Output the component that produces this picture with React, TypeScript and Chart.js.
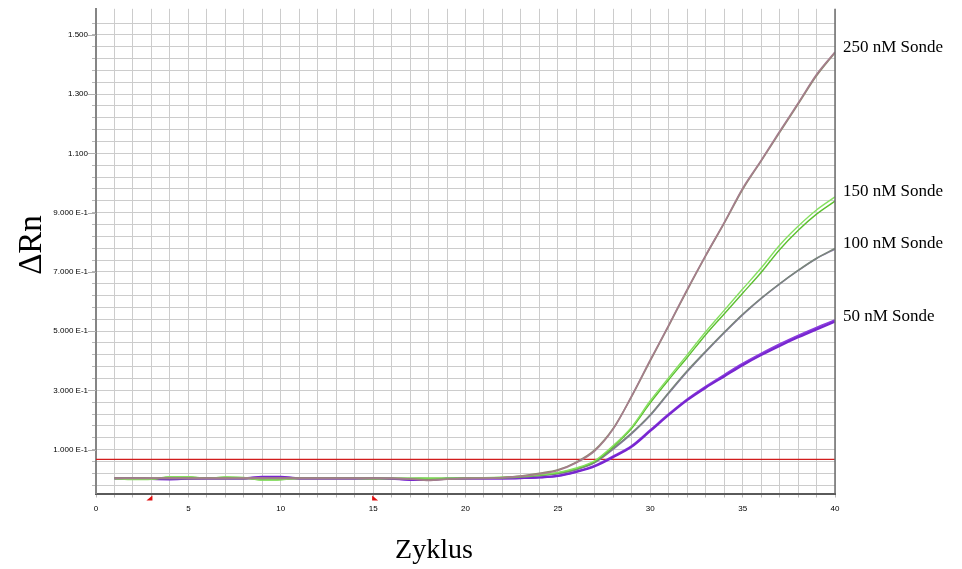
import { useEffect, useRef } from "react";
import { Chart, registerables } from "chart.js";

Chart.register(...registerables);

// ---------- data ----------
const cycles = [
  1, 2, 3, 4, 5, 6, 7, 8, 9, 10, 11, 12, 13, 14, 15, 16, 17, 18, 19, 20,
  21, 22, 23, 24, 25, 26, 27, 28, 29, 30, 31, 32, 33, 34, 35, 36, 37, 38, 39, 40,
];

const sonde250a = [
  0.003, 0.003, 0.003, 0.004, 0.003, 0.003, 0.003, 0.004, 0.004, 0.003,
  0.003, 0.003, 0.003, 0.003, 0.003, 0.003, 0.001, -0.004, 0.0, 0.003,
  0.003, 0.005, 0.01, 0.018, 0.03, 0.056, 0.096, 0.17, 0.282, 0.403,
  0.52, 0.641, 0.756, 0.866, 0.982, 1.076, 1.174, 1.269, 1.366, 1.442,
];
const sonde250b = [
  0.004, 0.004, 0.004, 0.004, 0.004, 0.004, 0.004, 0.003, 0.003, 0.004,
  0.004, 0.004, 0.004, 0.004, 0.004, 0.003, 0.002, -0.002, 0.001, 0.003,
  0.004, 0.006, 0.011, 0.02, 0.032, 0.058, 0.099, 0.172, 0.28, 0.4,
  0.518, 0.638, 0.754, 0.864, 0.978, 1.074, 1.17, 1.266, 1.362, 1.44,
];
const sonde150a = [
  0.002, -0.001, 0.0, 0.009, 0.009, 0.003, 0.008, 0.006, -0.003, -0.002,
  0.003, 0.003, 0.003, 0.003, 0.002, 0.003, 0.004, 0.004, 0.004, 0.004,
  0.005, 0.007, 0.01, 0.015, 0.023, 0.038, 0.063, 0.114, 0.177, 0.265,
  0.343, 0.42, 0.498, 0.57, 0.642, 0.713, 0.79, 0.854, 0.909, 0.953,
];
const sonde150b = [
  0.003, 0.001, 0.001, 0.007, 0.008, 0.003, 0.007, 0.005, -0.002, -0.001,
  0.003, 0.003, 0.003, 0.003, 0.002, 0.003, 0.003, 0.004, 0.004, 0.004,
  0.005, 0.006, 0.009, 0.014, 0.021, 0.036, 0.06, 0.11, 0.172, 0.258,
  0.336, 0.411, 0.488, 0.558, 0.628, 0.698, 0.775, 0.84, 0.895, 0.939,
];
const sonde100a = [
  0.003, 0.003, 0.003, 0.003, 0.003, 0.003, 0.003, 0.003, 0.003, 0.003,
  0.003, 0.003, 0.003, 0.003, 0.003, 0.003, 0.003, 0.002, 0.002, 0.003,
  0.004, 0.005, 0.008, 0.013, 0.02, 0.034, 0.058, 0.105, 0.157, 0.218,
  0.293, 0.366, 0.432, 0.496, 0.557, 0.611, 0.66, 0.705, 0.746, 0.779,
];
const sonde100b = [
  0.003, 0.003, 0.003, 0.003, 0.003, 0.003, 0.003, 0.003, 0.003, 0.003,
  0.003, 0.003, 0.003, 0.003, 0.003, 0.003, 0.002, 0.002, 0.002, 0.003,
  0.003, 0.004, 0.007, 0.012, 0.019, 0.032, 0.056, 0.102, 0.154, 0.215,
  0.29, 0.363, 0.43, 0.494, 0.555, 0.61, 0.659, 0.704, 0.745, 0.777,
];
const sonde50a = [
  0.003, 0.003, 0.001, 0.0, 0.002, 0.003, 0.003, 0.003, 0.008, 0.008,
  0.003, 0.003, 0.003, 0.003, 0.003, 0.002, -0.002, -0.002, 0.002, 0.003,
  0.003, 0.003, 0.004, 0.006, 0.011, 0.025, 0.044, 0.075, 0.11, 0.163,
  0.217, 0.267, 0.309, 0.347, 0.385, 0.419, 0.45, 0.479, 0.506, 0.532,
];
const sonde50b = [
  0.003, 0.003, 0.002, 0.001, 0.002, 0.003, 0.003, 0.003, 0.007, 0.007,
  0.003, 0.003, 0.003, 0.003, 0.003, 0.002, -0.001, -0.001, 0.002, 0.003,
  0.003, 0.003, 0.004, 0.007, 0.012, 0.026, 0.046, 0.078, 0.113, 0.166,
  0.22, 0.27, 0.313, 0.352, 0.39, 0.424, 0.456, 0.485, 0.512, 0.537,
];

const seriesLabels = ["250 nM Sonde", "150 nM Sonde", "100 nM Sonde", "50 nM Sonde"];

const thresholdValue = 0.067;
const thresholdCycles = [0, 40];
const baselineMarkerCycles = [3, 15];

const xTickValues = [0, 5, 10, 15, 20, 25, 30, 35, 40];
const xTickLabels = ["0", "5", "10", "15", "20", "25", "30", "35", "40"];
const yTickValues = [0.1, 0.3, 0.5, 0.7, 0.9, 1.1, 1.3, 1.5];
const yTickLabels = [
  "1.000 E-1", "3.000 E-1", "5.000 E-1", "7.000 E-1", "9.000 E-1",
  "1.100", "1.300", "1.500",
];
const yGridStart = -0.02;
const yGridStep = 0.04;
const yGridEnd = 1.56;

const xTitle = "Zyklus";
const yTitle = "ΔRn";

// ---------- helpers ----------
const toPoints = (vals: number[]) => cycles.map((c, i) => ({ x: c, y: vals[i] }));

const findLabel = (v: number, values: number[], labels: string[]) => {
  for (let i = 0; i < values.length; i++) {
    if (Math.abs(values[i] - v) < 1e-6) return labels[i];
  }
  return "";
};

const yGridTicks: { value: number }[] = [];
for (let v = yGridStart; v <= yGridEnd + 1e-9; v += yGridStep) {
  yGridTicks.push({ value: Math.round(v * 1000) / 1000 });
}

const endValues = [sonde250a, sonde150a, sonde100a, sonde50a].map((s) => s[s.length - 1]);

const decorations = {
  id: "decorations",
  afterDatasetsDraw(chart: any) {
    const { ctx, chartArea } = chart;
    const xs = chart.scales.x;
    const ys = chart.scales.y;
    ctx.save();
    // right border
    ctx.strokeStyle = "#6e6e6e";
    ctx.lineWidth = 1.5;
    ctx.beginPath();
    ctx.moveTo(chartArea.right, chartArea.top);
    ctx.lineTo(chartArea.right, chartArea.bottom);
    ctx.stroke();
    // longer ticks at labelled y values
    ctx.strokeStyle = "#b0b0b0";
    ctx.lineWidth = 1;
    yTickValues.forEach((v) => {
      const py = Math.round(ys.getPixelForValue(v)) + 0.5;
      ctx.beginPath();
      ctx.moveTo(chartArea.left - 8, py);
      ctx.lineTo(chartArea.left, py);
      ctx.stroke();
    });
    // baseline markers (red triangles)
    ctx.fillStyle = "#e01010";
    baselineMarkerCycles.forEach((c, i) => {
      const px = xs.getPixelForValue(c);
      const top = chartArea.bottom + 2;
      ctx.beginPath();
      if (i === 0) {
        ctx.moveTo(px + 1, top);
        ctx.lineTo(px + 1, top + 5);
        ctx.lineTo(px - 5, top + 5);
      } else {
        ctx.moveTo(px - 1, top);
        ctx.lineTo(px - 1, top + 5);
        ctx.lineTo(px + 5, top + 5);
      }
      ctx.closePath();
      ctx.fill();
    });
    ctx.restore();
  },
  afterDraw(chart: any) {
    const { ctx, chartArea } = chart;
    const ys = chart.scales.y;
    ctx.save();
    ctx.fillStyle = "#000";
    // series labels at the right
    ctx.font = "17px 'Liberation Serif', 'Times New Roman', serif";
    ctx.textAlign = "left";
    ctx.textBaseline = "middle";
    seriesLabels.forEach((lab, i) => {
      const py = ys.getPixelForValue(endValues[i]) - 5;
      ctx.fillText(lab, chartArea.right + 8, py);
    });
    // x title
    ctx.font = "28px 'Liberation Serif', 'Times New Roman', serif";
    ctx.textAlign = "center";
    ctx.textBaseline = "alphabetic";
    ctx.fillText(xTitle, 434, 558);
    // y title
    ctx.font = "33px 'Liberation Serif', 'Times New Roman', serif";
    ctx.translate(41, 245);
    ctx.rotate(-Math.PI / 2);
    ctx.fillText(yTitle, 0, 0);
    ctx.restore();
  },
};

export default function App() {
  const ref = useRef<HTMLCanvasElement | null>(null);

  useEffect(() => {
    if (!ref.current) return;
    const line = (data: number[], color: string, width: number) => ({
      data: toPoints(data),
      borderColor: color,
      backgroundColor: color,
      borderWidth: width,
      pointRadius: 0,
      cubicInterpolationMode: "monotone",
      fill: false,
    });
    const chart = new Chart(ref.current, {
      type: "line",
      data: {
        datasets: [
          line(sonde250a, "#a57e8d", 1.6),
          line(sonde250b, "#8f8a70", 1.6),
          line(sonde150a, "#86e060", 1.4),
          line(sonde150b, "#5cbf30", 1.4),
          line(sonde100a, "#7a877c", 1.5),
          line(sonde100b, "#8575a0", 1.5),
          line(sonde50a, "#7826d0", 2.2),
          line(sonde50b, "#8b3ddf", 2.0),
          {
            data: thresholdCycles.map((c) => ({ x: c, y: thresholdValue })),
            borderColor: "#d21c1c",
            borderWidth: 1.2,
            pointRadius: 0,
            fill: false,
          },
        ] as any,
      },
      options: {
        animation: false,
        responsive: false,
        events: [],
        layout: { padding: { top: 8, right: 127, left: 0, bottom: 0 } },
        plugins: { legend: { display: false }, tooltip: { enabled: false }, title: { display: false } },
        scales: {
          x: {
            type: "linear",
            min: 0,
            max: 40,
            afterFit: (s: any) => {
              s.height = 75.5;
            },
            ticks: {
              stepSize: 1,
              autoSkip: false,
              maxRotation: 0,
              padding: 6,
              color: "#000",
              font: { family: "'Liberation Sans', Arial, sans-serif", size: 8 },
              callback: (v: any) => findLabel(Number(v), xTickValues, xTickLabels),
            },
            grid: { color: "#cccccc", lineWidth: 1, tickLength: 4, tickColor: "#b8b8b8" },
            border: { color: "#5a5a5a", width: 2 },
          },
          y: {
            type: "linear",
            min: -0.048,
            max: 1.588,
            afterFit: (s: any) => {
              s.width = 96;
            },
            afterBuildTicks: (s: any) => {
              s.ticks = yGridTicks.map((t) => ({ value: t.value }));
            },
            ticks: {
              autoSkip: false,
              padding: 4,
              color: "#000",
              font: { family: "'Liberation Sans', Arial, sans-serif", size: 8 },
              callback: (v: any) => findLabel(Number(v), yTickValues, yTickLabels),
            },
            grid: { color: "#cccccc", lineWidth: 1, tickLength: 4, tickColor: "#b8b8b8" },
            border: { color: "#858585", width: 2 },
          },
        },
      } as any,
      plugins: [decorations],
    });
    return () => chart.destroy();
  }, []);

  return (
    <div style={{ position: "absolute", left: 0, top: 0, width: 962, height: 569, background: "#fff" }}>
      <canvas ref={ref} width={962} height={569} style={{ width: 962, height: 569, display: "block" }} />
    </div>
  );
}
